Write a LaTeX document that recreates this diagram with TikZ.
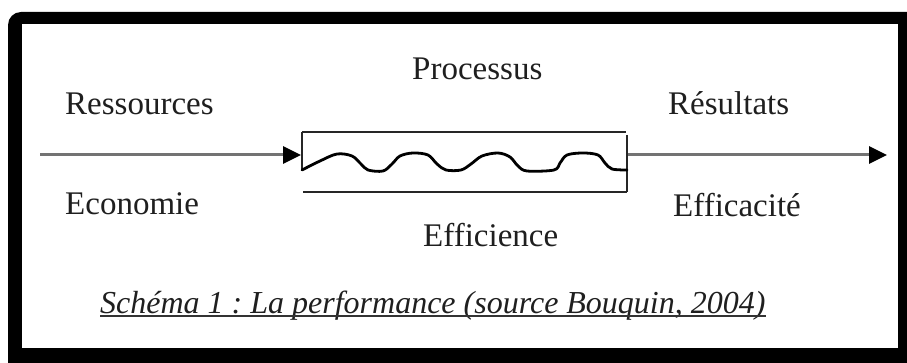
\documentclass[tikz,border=0pt]{standalone}
\usepackage{fontspec}
\setmainfont{Liberation Serif}
\usetikzlibrary{arrows.meta}
\frenchspacing
\begin{document}
\begin{tikzpicture}[x=1pt,y=-1pt,
  lbl/.style={anchor=base west,inner sep=0pt,text=black!88,font=\fontsize{33}{36}\selectfont},
  flow/.style={draw=black!55,line width=3pt,-{Triangle[length=18pt,width=17pt,color=black]}},
  boxline/.style={draw=black!85,line width=1.6pt},
  wave/.style={draw=black,line width=2.8pt,line cap=round,line join=round}]
\useasboundingbox (0,0) rectangle (907,363);
\clip (0,0) rectangle (907,363);
% thick frame
\fill[black,rounded corners=13pt] (8,12) rectangle (930,390);
\fill[white] (22,24) rectangle (898,348);

% flow line through the process
\coordinate (src) at (40,155);
\coordinate (pin) at (301,155);
\coordinate (pout) at (627,155);
\coordinate (dst) at (887,155);
\draw[flow] (src) -- (pin);
\draw[flow] (pout) -- (dst);

% process box
\coordinate (tl) at (302,132);
\coordinate (tr) at (626,132);
\coordinate (rt) at (627,135);
\coordinate (br) at (627,192);
\coordinate (bl) at (303,192);
\coordinate (wl) at (302,170);
\draw[boxline] (tl) -- (tr);
\draw[boxline] (tl) -- (wl);
\draw[boxline] (rt) -- (br);
\draw[boxline] (bl) -- (br);

% wavy line inside the box
\draw[wave] plot[smooth,tension=0.55] coordinates {
  (302,170) (320,161) (337,154) (352,156) (361,164) (368,170) (383,171)
  (392,164) (400,156) (413,153) (428,155) (437,164) (446,170) (461,170)
  (471,164) (482,156) (498,153) (510,157) (518,166) (527,171) (554,170)
  (560,163) (567,155) (583,153) (598,155) (605,163) (612,169) (627,170)};

% labels
\node[lbl] (ress) at (65,115) {Ressources};
\node[lbl] (eco) at (65,215) {Economie};
\node[lbl] (proc) at (412,80) {Processus};
\node[lbl] (effi) at (423,247) {Efficience};
\node[lbl] (res) at (668,115) {Résultats};
\node[lbl] (effa) at (673,217) {Efficacité};

% caption
\node[lbl,font=\itshape\fontsize{32}{36}\selectfont] (cap) at (100,313) {Schéma 1 : La performance (source Bouquin, 2004)};
\draw[draw=black!80,line width=1.4pt] ([yshift=-3pt]cap.base west) -- ([yshift=-3pt]cap.base east);
\end{tikzpicture}
\end{document}
